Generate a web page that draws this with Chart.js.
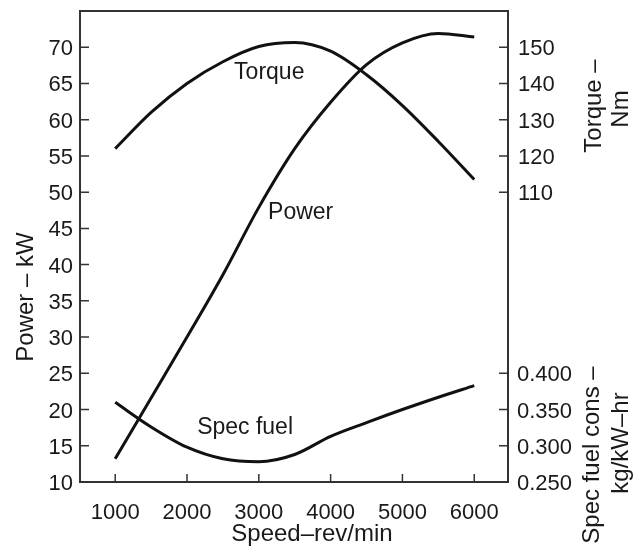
<!DOCTYPE html>
<html>
<head>
<meta charset="utf-8">
<script src="https://cdn.jsdelivr.net/npm/chart.js@4.4.1/dist/chart.umd.min.js"></script>
<style>
  html, body { margin: 0; padding: 0; background: #fff; }
  #wrap { width: 633px; height: 548px; }
</style>
</head>
<body>
<div id="wrap"><canvas id="engineChart" width="633" height="548"></canvas></div>
<script>
// engine speed (rev/min) for every sampled point
const speeds = [1000, 1500, 2000, 2500, 3000, 3500, 4000, 4500, 5000, 5500, 6000];

const power = [13.2, 21.6, 30.0, 38.6, 47.9, 56.0, 62.4, 67.6, 70.6, 71.9, 71.4];          // kW
const torque = [122, 132, 140, 146, 150.2, 151.3, 148.9, 142.4, 133.9, 124.0, 113.5];        // Nm
const specFuel = [0.360, 0.326, 0.298, 0.282, 0.278, 0.288, 0.313, 0.332, 0.350, 0.367, 0.383]; // kg/kW-hr

// tick labels
const speedTicks = [1000, 2000, 3000, 4000, 5000, 6000];
const powerTicks = [10, 15, 20, 25, 30, 35, 40, 45, 50, 55, 60, 65, 70];
const torqueTicks = [110, 120, 130, 140, 150];
const fuelTicks = [0.250, 0.300, 0.350, 0.400];

// curve names written next to the lines, placed in speed / power units
const curveLabels = [
  { text: 'Torque', speed: 2656, power: 65.6 },
  { text: 'Power', speed: 3129, power: 46.25 },
  { text: 'Spec fuel', speed: 2141, power: 16.56 }
];

const ink = '#1a1a1a';
const tickFont = '22px "Liberation Sans", Arial, sans-serif';
const labelFont = '23px "Liberation Sans", Arial, sans-serif';
const titleFont = '24px "Liberation Sans", Arial, sans-serif';

const toPoints = (ys) => speeds.map((s, i) => ({ x: s, y: ys[i] }));

// frame, inward ticks, tick labels and axis titles
const axesPlugin = {
  id: 'engineAxes',
  afterDatasetsDraw(chart) {
    const { ctx, chartArea: a, scales } = chart;
    const x = scales.x, yP = scales.yP, yT = scales.yT, yF = scales.yF;
    ctx.save();

    ctx.strokeStyle = '#333';
    ctx.lineWidth = 2;
    ctx.strokeRect(a.left, a.top, a.right - a.left, a.bottom - a.top);

    ctx.lineWidth = 1.5;
    ctx.beginPath();
    speedTicks.forEach(v => {
      const px = x.getPixelForValue(v);
      ctx.moveTo(px, a.bottom); ctx.lineTo(px, a.bottom - 8);
    });
    powerTicks.forEach(v => {
      const py = yP.getPixelForValue(v);
      ctx.moveTo(a.left, py); ctx.lineTo(a.left + 9, py);
    });
    torqueTicks.forEach(v => {
      const py = yT.getPixelForValue(v);
      ctx.moveTo(a.right, py); ctx.lineTo(a.right - 9, py);
    });
    fuelTicks.forEach(v => {
      const py = yF.getPixelForValue(v);
      ctx.moveTo(a.right, py); ctx.lineTo(a.right - 9, py);
    });
    ctx.stroke();

    ctx.fillStyle = ink;
    ctx.font = tickFont;
    ctx.textBaseline = 'alphabetic';

    ctx.textAlign = 'center';
    speedTicks.forEach(v => ctx.fillText(String(v), x.getPixelForValue(v), a.bottom + 37));

    ctx.textAlign = 'right';
    powerTicks.forEach(v => ctx.fillText(String(v), a.left - 7, yP.getPixelForValue(v) + 8));

    ctx.textAlign = 'left';
    torqueTicks.forEach(v => ctx.fillText(String(v), a.right + 10, yT.getPixelForValue(v) + 8));
    fuelTicks.forEach(v => ctx.fillText(v.toFixed(3), a.right + 9, yF.getPixelForValue(v) + 8));

    ctx.font = labelFont;
    curveLabels.forEach(l => ctx.fillText(l.text, x.getPixelForValue(l.speed), yP.getPixelForValue(l.power)));

    ctx.font = titleFont;
    ctx.textAlign = 'center';
    ctx.fillText('Speed\u2013rev/min', 312, a.bottom + 59);

    const vertical = (text, px, py) => {
      ctx.save();
      ctx.translate(px, py);
      ctx.rotate(-Math.PI / 2);
      ctx.fillText(text, 0, 0);
      ctx.restore();
    };
    vertical('Power \u2013 kW', 33, 297);
    vertical('Torque \u2013', 601, 106);
    vertical('Nm', 628, 109);
    vertical('Spec fuel cons \u2013', 599, 455);
    vertical('kg/kW\u2013hr', 628, 443);

    ctx.restore();
  }
};

const lineStyle = {
  borderColor: '#111',
  borderWidth: 3,
  pointRadius: 0,
  cubicInterpolationMode: 'monotone',
  fill: false
};

new Chart(document.getElementById('engineChart'), {
  type: 'line',
  data: {
    datasets: [
      { label: 'Power', data: toPoints(power), yAxisID: 'yP', ...lineStyle },
      { label: 'Torque', data: toPoints(torque), yAxisID: 'yT', ...lineStyle },
      { label: 'Spec fuel', data: toPoints(specFuel), yAxisID: 'yF', ...lineStyle }
    ]
  },
  options: {
    responsive: false,
    animation: false,
    layout: { padding: { left: 80, top: 11, right: 125, bottom: 66 } },
    plugins: { legend: { display: false }, tooltip: { enabled: false } },
    scales: {
      x: { type: 'linear', min: 510, max: 6470, display: false },
      yP: { type: 'linear', min: 10, max: 75, display: false },
      yT: { type: 'linear', min: 30, max: 160, display: false },
      yF: { type: 'linear', min: 0.25, max: 0.90, display: false }
    }
  },
  plugins: [axesPlugin]
});
</script>
</body>
</html>
